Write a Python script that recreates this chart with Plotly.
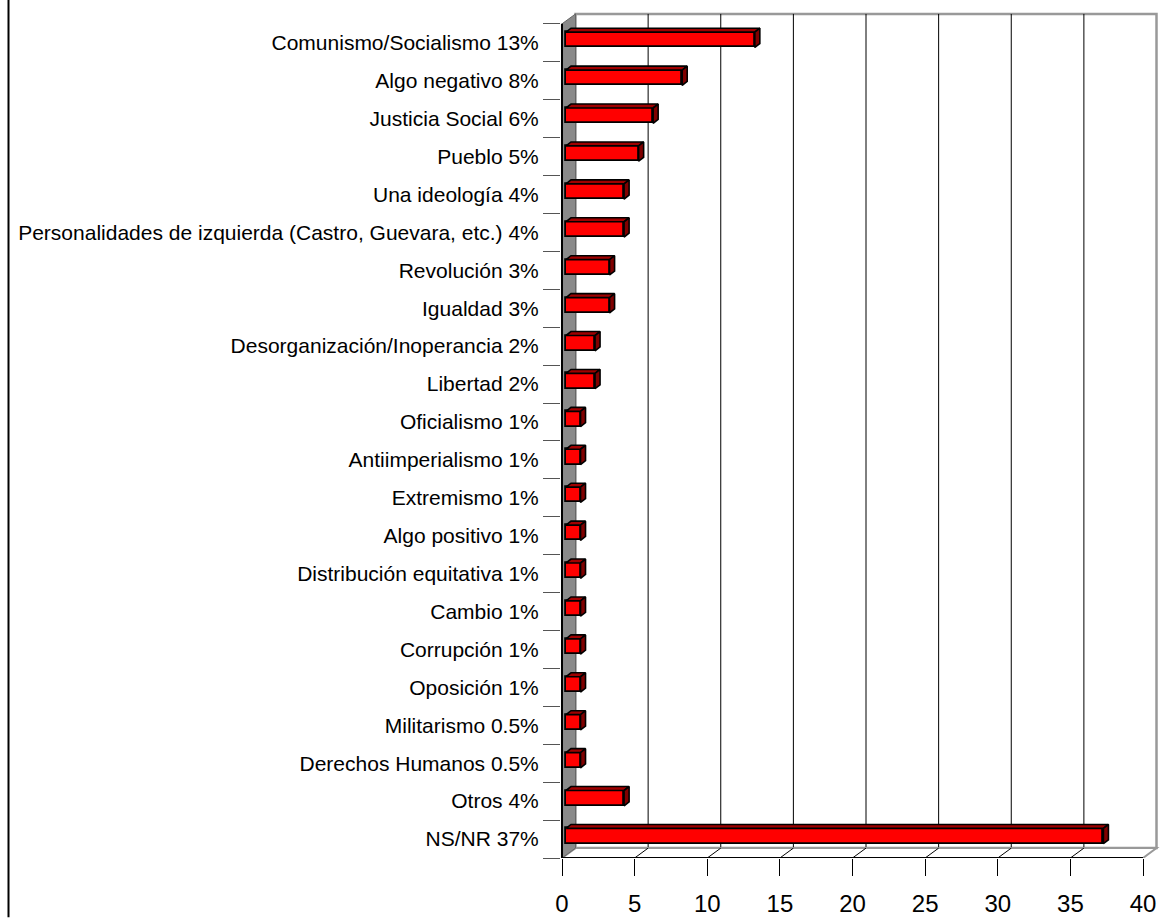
import plotly.graph_objects as go

# ---------------- data ----------------
categories = [
    "Comunismo/Socialismo 13%", "Algo negativo 8%", "Justicia Social 6%",
    "Pueblo 5%", "Una ideología 4%",
    "Personalidades de izquierda (Castro, Guevara, etc.) 4%",
    "Revolución 3%", "Igualdad 3%", "Desorganización/Inoperancia 2%",
    "Libertad 2%", "Oficialismo 1%", "Antiimperialismo 1%", "Extremismo 1%",
    "Algo positivo 1%", "Distribución equitativa 1%", "Cambio 1%",
    "Corrupción 1%", "Oposición 1%", "Militarismo 0.5%",
    "Derechos Humanos 0.5%", "Otros 4%", "NS/NR 37%",
]
values = [13, 8, 6, 5, 4, 4, 3, 3, 2, 2, 1, 1, 1, 1, 1, 1, 1, 1, 1, 1, 4, 37]
x_ticks = [0, 5, 10, 15, 20, 25, 30, 35, 40]

# ---------------- geometry (pixels -> data units) ----------------
W, H = 1163, 918
ML, MR, MT = 561, 1, 10
MB = H - 868
K = 581 / 40.0            # px per x unit
C = (868 - 24) / 22.0     # px per category
X0PX = 562                # pixel of x = 0
xmin = -(X0PX - ML) / K
xmax = xmin + (W - ML - MR) / K
n = len(categories)
ybot = n - 0.5
ytop = -0.5 - (24 - MT) / C

DX = 13.5 / K   # wall depth
DY = 10.0 / C
BF = 4.0 / K    # bar front offset
BFY = 3.0 / C
BDX = 5.0 / K   # bar depth
BDY = 4.0 / C
BH = 15.5 / C   # bar thickness
XMAXV = x_ticks[-1]

fig = go.Figure()

ypos = [i - BFY for i in range(n)]
fig.add_trace(go.Bar(
    orientation="h", y=ypos, x=values, base=BF, width=BH,
    marker=dict(color="#FF0000", line=dict(color="black", width=1.8)),
    hoverinfo="skip", showlegend=False,
))

# top faces & side faces
tx, ty, sx, sy = [], [], [], []
for i, v in enumerate(values):
    yt = ypos[i] - BH / 2
    x1 = BF + v
    tx += [BF, x1, x1 + BDX, BF + BDX, BF, None]
    ty += [yt, yt, yt - BDY, yt - BDY, yt, None]
    sx += [x1, x1 + BDX, x1 + BDX, x1, x1, None]
    sy += [yt, yt - BDY, yt - BDY + BH, yt + BH, yt, None]
fig.add_trace(go.Scatter(x=tx, y=ty, mode="lines", fill="toself",
                         fillcolor="#A00000", line=dict(color="black", width=1.6),
                         hoverinfo="skip", showlegend=False))
fig.add_trace(go.Scatter(x=sx, y=sy, mode="lines", fill="toself",
                         fillcolor="#800000", line=dict(color="black", width=1.6),
                         hoverinfo="skip", showlegend=False))

shapes = []
# back wall
shapes.append(dict(type="rect", xref="x", yref="y", layer="below",
                   x0=DX, x1=XMAXV + DX, y0=-0.5 - DY, y1=ybot - DY,
                   fillcolor="white", line=dict(color="#999999", width=2.5)))
# grid lines on wall and floor
for t in x_ticks[1:-1]:
    shapes.append(dict(type="line", xref="x", yref="y", layer="below",
                       x0=t + DX, x1=t + DX, y0=-0.5 - DY, y1=ybot - DY,
                       line=dict(color="black", width=1)))
# floor
shapes.append(dict(type="path", xref="x", yref="y", layer="below",
                   path=f"M 0,{ybot} L {XMAXV},{ybot} L {XMAXV + DX},{ybot - DY} L {DX},{ybot - DY} Z",
                   fillcolor="white", line=dict(color="#999999", width=2)))
for t in x_ticks[1:-1]:
    shapes.append(dict(type="line", xref="x", yref="y", layer="below",
                       x0=t, x1=t + DX, y0=ybot, y1=ybot - DY,
                       line=dict(color="black", width=1)))
# side wall
shapes.append(dict(type="path", xref="x", yref="y", layer="below",
                   path=f"M 0,-0.5 L {DX},{-0.5 - DY} L {DX},{ybot - DY} L 0,{ybot} Z",
                   fillcolor="#8a8a8a", line=dict(color="#666666", width=1)))
shapes.append(dict(type="line", xref="x", yref="y", layer="below",
                   x0=0, x1=0, y0=-0.5, y1=ybot, line=dict(color="black", width=2)))
# front axis line
shapes.append(dict(type="line", xref="x", yref="y", layer="below",
                   x0=0, x1=XMAXV, y0=ybot, y1=ybot, line=dict(color="black", width=2)))

# chart border line at left
ph = H - MT - MB
pw = W - ML - MR
def paper_x(px):
    return (px - ML) / pw
def paper_y(py):
    return (H - MB - py) / ph
shapes.append(dict(type="line", xref="paper", yref="paper",
                   x0=paper_x(8.5), x1=paper_x(8.5), y0=paper_y(-10), y1=paper_y(H + 10),
                   line=dict(color="black", width=2)))

fig.update_layout(
    width=W, height=H,
    margin=dict(l=ML, r=MR, t=MT, b=MB, pad=0),
    paper_bgcolor="white", plot_bgcolor="white",
    font=dict(family="Arial, Liberation Sans, sans-serif", color="black"),
    shapes=shapes,
    bargap=0,
    xaxis=dict(range=[xmin, xmax], tickmode="array", tickvals=x_ticks,
               ticktext=[str(t) for t in x_ticks],
               ticks="outside", ticklen=17, tickwidth=1, tickcolor="black",
               ticklabelstandoff=7,
               showgrid=False, zeroline=False, showline=False,
               tickfont=dict(size=24, color="black")),
    yaxis=dict(range=[ybot, ytop], tickmode="array", tickvals=list(range(n)),
               ticktext=categories, ticks="outside", ticklen=17,
               tickcolor="rgba(0,0,0,0)",
               minor=dict(tickmode="array", tickvals=[i - 0.5 for i in range(n + 1)],
                          ticks="outside", ticklen=17, tickcolor="#555555", tickwidth=1,
                          showgrid=False),
               showgrid=False, zeroline=False, showline=False,
               tickfont=dict(size=21, color="black")),
)

fig.write_html(
    "out.html",
    config={"displayModeBar": False},
    post_script="document.body.style.margin='0';document.body.style.overflow='hidden';",
)
